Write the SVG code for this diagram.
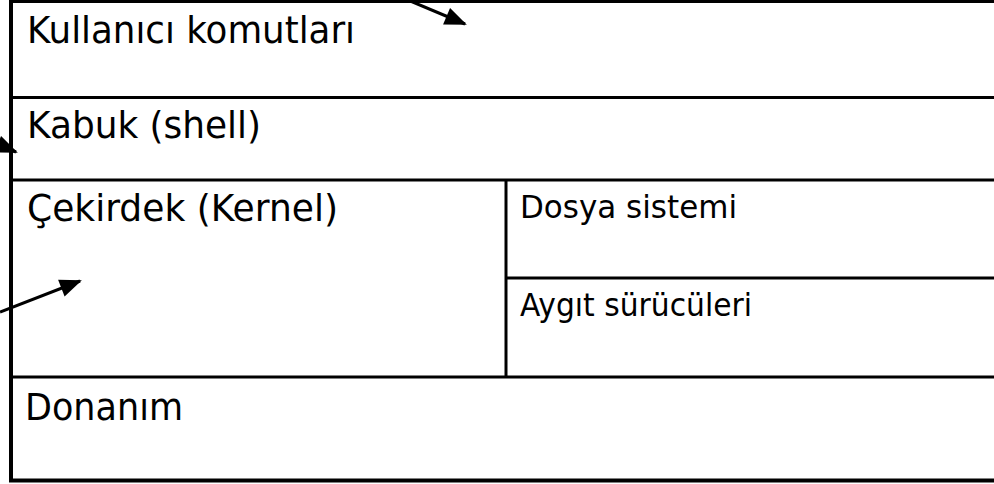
<svg xmlns="http://www.w3.org/2000/svg" width="994" height="484" viewBox="0 0 994 484">
  <style>
    .frame { stroke: #000; stroke-width: 3; fill: none; }
    .label { font-family: "DejaVu Sans", Tahoma, Verdana, sans-serif; fill: #000; }
    .big { font-size: 38px; }
    .small { font-size: 32px; }
    .conn { stroke: #000; stroke-width: 3; fill: none; }
  </style>
  <defs>
    <marker id="head" markerUnits="userSpaceOnUse" markerWidth="24" markerHeight="20" refX="20" refY="9" orient="auto" overflow="visible">
      <path d="M0,0 L22,9 L0,18 z" fill="#000"/>
    </marker>
  </defs>
  <rect width="994" height="484" fill="#fff"/>

  <!-- outer frame: left edge and top/bottom lines run off the right side -->
  <g id="frame">
    <line class="frame" x1="9" y1="1.5" x2="994" y2="1.5"/>
    <line class="frame" x1="11" y1="0" x2="11" y2="482" style="stroke-width:4"/>
    <line class="frame" x1="9" y1="480.5" x2="994" y2="480.5" style="stroke-width:4"/>
  </g>

  <g id="user-commands">
    <line class="frame" x1="11" y1="97.5" x2="994" y2="97.5"/>
    <text class="label big" x="27" y="43" textLength="328" lengthAdjust="spacingAndGlyphs">Kullanıcı komutları</text>
  </g>

  <g id="shell">
    <line class="frame" x1="11" y1="180" x2="994" y2="180"/>
    <text class="label big" x="27" y="138" textLength="234" lengthAdjust="spacingAndGlyphs">Kabuk (shell)</text>
  </g>

  <g id="kernel">
    <line class="frame" x1="506" y1="180" x2="506" y2="377"/>
    <text class="label big" x="27" y="221" textLength="311" lengthAdjust="spacingAndGlyphs">Çekirdek (Kernel)</text>
  </g>

  <g id="file-system">
    <line class="frame" x1="506" y1="278" x2="994" y2="278"/>
    <text class="label small" x="520" y="218" textLength="217" lengthAdjust="spacingAndGlyphs">Dosya sistemi</text>
  </g>

  <g id="device-drivers">
    <text class="label small" x="520" y="316" textLength="232" lengthAdjust="spacingAndGlyphs">Aygıt sürücüleri</text>
  </g>

  <g id="hardware">
    <line class="frame" x1="11" y1="377" x2="994" y2="377"/>
    <text class="label big" x="25" y="420" textLength="158" lengthAdjust="spacingAndGlyphs">Donanım</text>
  </g>

  <g id="connectors">
    <line class="conn" x1="408" y1="0" x2="465" y2="24" marker-end="url(#head)"/>
    <line class="conn" x1="-15" y1="139" x2="16" y2="152" marker-end="url(#head)"/>
    <line class="conn" x1="0" y1="312" x2="80" y2="281" marker-end="url(#head)"/>
  </g>
</svg>
